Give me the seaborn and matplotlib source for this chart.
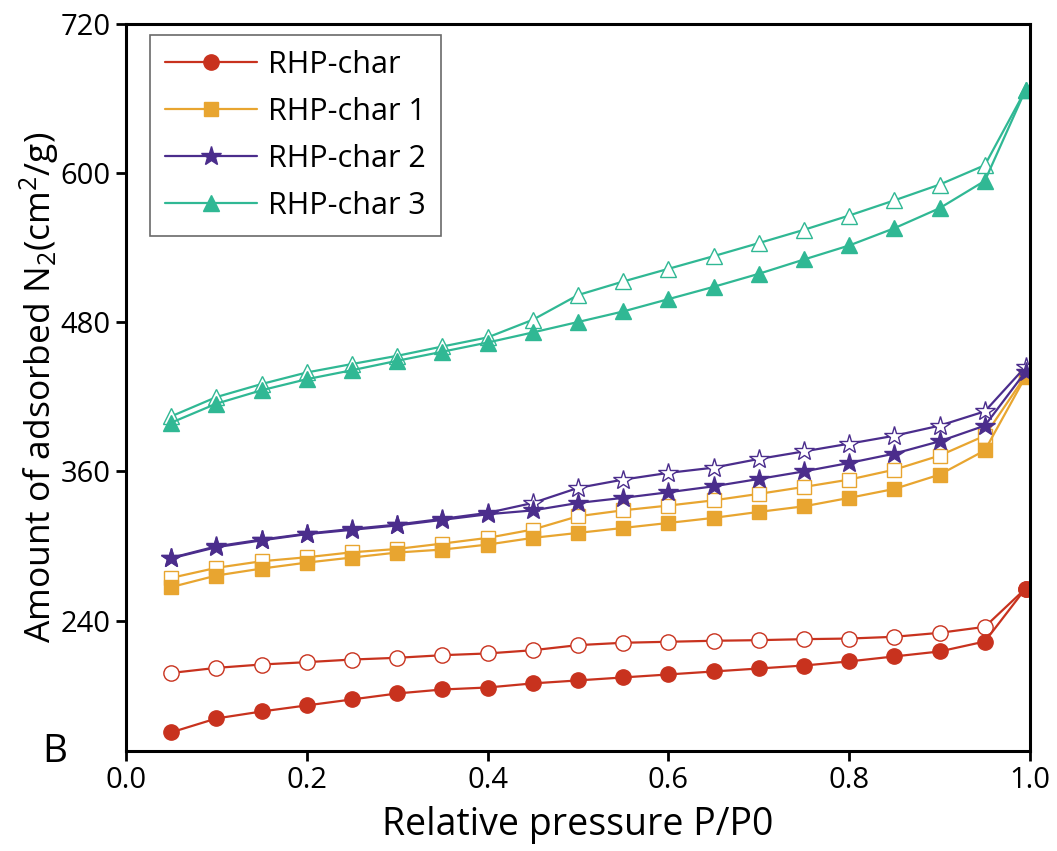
import matplotlib
matplotlib.use("Agg")
import matplotlib.pyplot as plt
import pandas as pd
import seaborn as sns

# relative pressure points
p = [0.05, 0.10, 0.15, 0.20, 0.25, 0.30, 0.35, 0.40, 0.45, 0.50,
     0.55, 0.60, 0.65, 0.70, 0.75, 0.80, 0.85, 0.90, 0.95, 0.995]

# adsorption (filled) / desorption (open) branches
rhp_ads = [150.0, 161.2, 166.8, 171.7, 176.5, 181.3, 184.5, 186.1, 189.4, 191.8,
           194.2, 196.6, 199.0, 201.4, 203.8, 207.1, 211.1, 215.1, 223.1, 265.7]
rhp_des = [197.8, 201.9, 204.6, 206.5, 208.6, 210.0, 212.1, 213.5, 216.1, 220.2,
           222.1, 222.9, 223.7, 224.2, 225.0, 225.5, 226.9, 230.1, 234.9, 265.7]

rhp1_ads = [266.9, 276.2, 281.8, 286.6, 290.7, 294.7, 297.1, 301.1, 306.5, 310.5,
            314.5, 318.5, 322.6, 327.4, 331.9, 338.7, 345.9, 357.4, 376.9, 436.2]
rhp1_des = [274.3, 282.4, 287.7, 290.9, 294.9, 297.6, 301.9, 306.5, 313.2, 323.9,
            328.7, 332.5, 336.7, 341.9, 347.5, 353.4, 361.4, 372.7, 388.7, 437.0]

rhp2_ads = [290.0, 299.0, 304.5, 309.5, 313.0, 316.5, 321.0, 325.5, 328.6, 334.6,
            338.7, 343.2, 348.0, 353.9, 360.0, 366.8, 374.3, 384.2, 396.8, 440.2]
rhp2_des = [290.4, 299.7, 305.1, 309.9, 313.7, 317.2, 321.8, 326.6, 334.6, 346.7,
            353.4, 358.8, 363.0, 370.0, 376.1, 382.3, 388.7, 396.8, 408.3, 444.2]

rhp3_ads = [399.2, 414.5, 425.3, 434.2, 441.4, 449.0, 456.3, 463.7, 471.8, 480.2,
            488.7, 498.6, 508.5, 519.0, 530.5, 541.8, 555.7, 571.8, 593.8, 666.9]
rhp3_des = [404.3, 419.8, 430.3, 439.6, 446.4, 453.0, 460.5, 467.8, 482.0, 501.9,
            512.8, 523.0, 533.2, 543.7, 554.4, 565.9, 578.1, 590.8, 606.4, 666.9]

names = ["RHP-char", "RHP-char 1", "RHP-char 2", "RHP-char 3"]
ads = [rhp_ads, rhp1_ads, rhp2_ads, rhp3_ads]
des = [rhp_des, rhp1_des, rhp2_des, rhp3_des]
colors = ["#C8321E", "#E8A530", "#4B2D8C", "#30B894"]
markers = ["o", "s", "*", "^"]
msizes = [11, 10, 15, 12]

sns.set_style("white")
plt.rcParams["font.family"] = ["Open Sans", "DejaVu Sans"]
plt.rcParams["mathtext.default"] = "regular"
plt.rcParams["text.color"] = "black"
plt.rcParams["axes.labelcolor"] = "black"

fig = plt.figure(figsize=(10.57, 8.51), dpi=100)
ax = fig.add_axes([0.1192, 0.1175, 0.8553, 0.8543])

handles = []
for name, ya, yd, c, m, ms in zip(names, ads, des, colors, markers, msizes):
    df_a = pd.DataFrame({"p": p, "v": ya})
    df_d = pd.DataFrame({"p": p, "v": yd})
    sns.lineplot(data=df_d, x="p", y="v", ax=ax, color=c, marker=m,
                 markersize=ms, markerfacecolor="white", markeredgecolor=c,
                 markeredgewidth=1.0, linewidth=1.6)
    sns.lineplot(data=df_a, x="p", y="v", ax=ax, color=c, marker=m,
                 markersize=ms, markerfacecolor=c, markeredgecolor=c,
                 markeredgewidth=1.0, linewidth=1.6)
    handles.append(ax.lines[-1])

ax.set_xlim(0, 1.0)
ax.set_ylim(135, 720)
ax.set_xticks([0.0, 0.2, 0.4, 0.6, 0.8, 1.0])
ax.set_xticklabels(["0.0", "0.2", "0.4", "0.6", "0.8", "1.0"])
ax.set_yticks([240, 360, 480, 600, 720])

for s in ax.spines.values():
    s.set_visible(True)
    s.set_color("black")
    s.set_linewidth(2.2)

ax.tick_params(axis="both", which="major", direction="out", length=7, width=2,
               labelsize=21, colors="black", left=True, bottom=True, pad=4)

ax.set_xlabel("Relative pressure P/P0", fontsize=27, labelpad=8)
ax.set_ylabel("Amount of adsorbed N$_2$(cm$^2$/g)", fontsize=25.5, labelpad=0)

leg = ax.legend(handles, names, loc="upper left", fontsize=22, frameon=True,
                fancybox=False, edgecolor="#444444", handlelength=3.0,
                borderpad=0.5, labelspacing=0.55, handletextpad=0.35,
                borderaxespad=0, bbox_to_anchor=(0.0265, 0.985))
leg.get_frame().set_linewidth(1.2)
for t in leg.get_texts():
    t.set_color("black")

fig.text(0.052, 1 - 752 / 851, "B", fontsize=28, va="center", ha="center")

fig.savefig("out.png", dpi=100)
